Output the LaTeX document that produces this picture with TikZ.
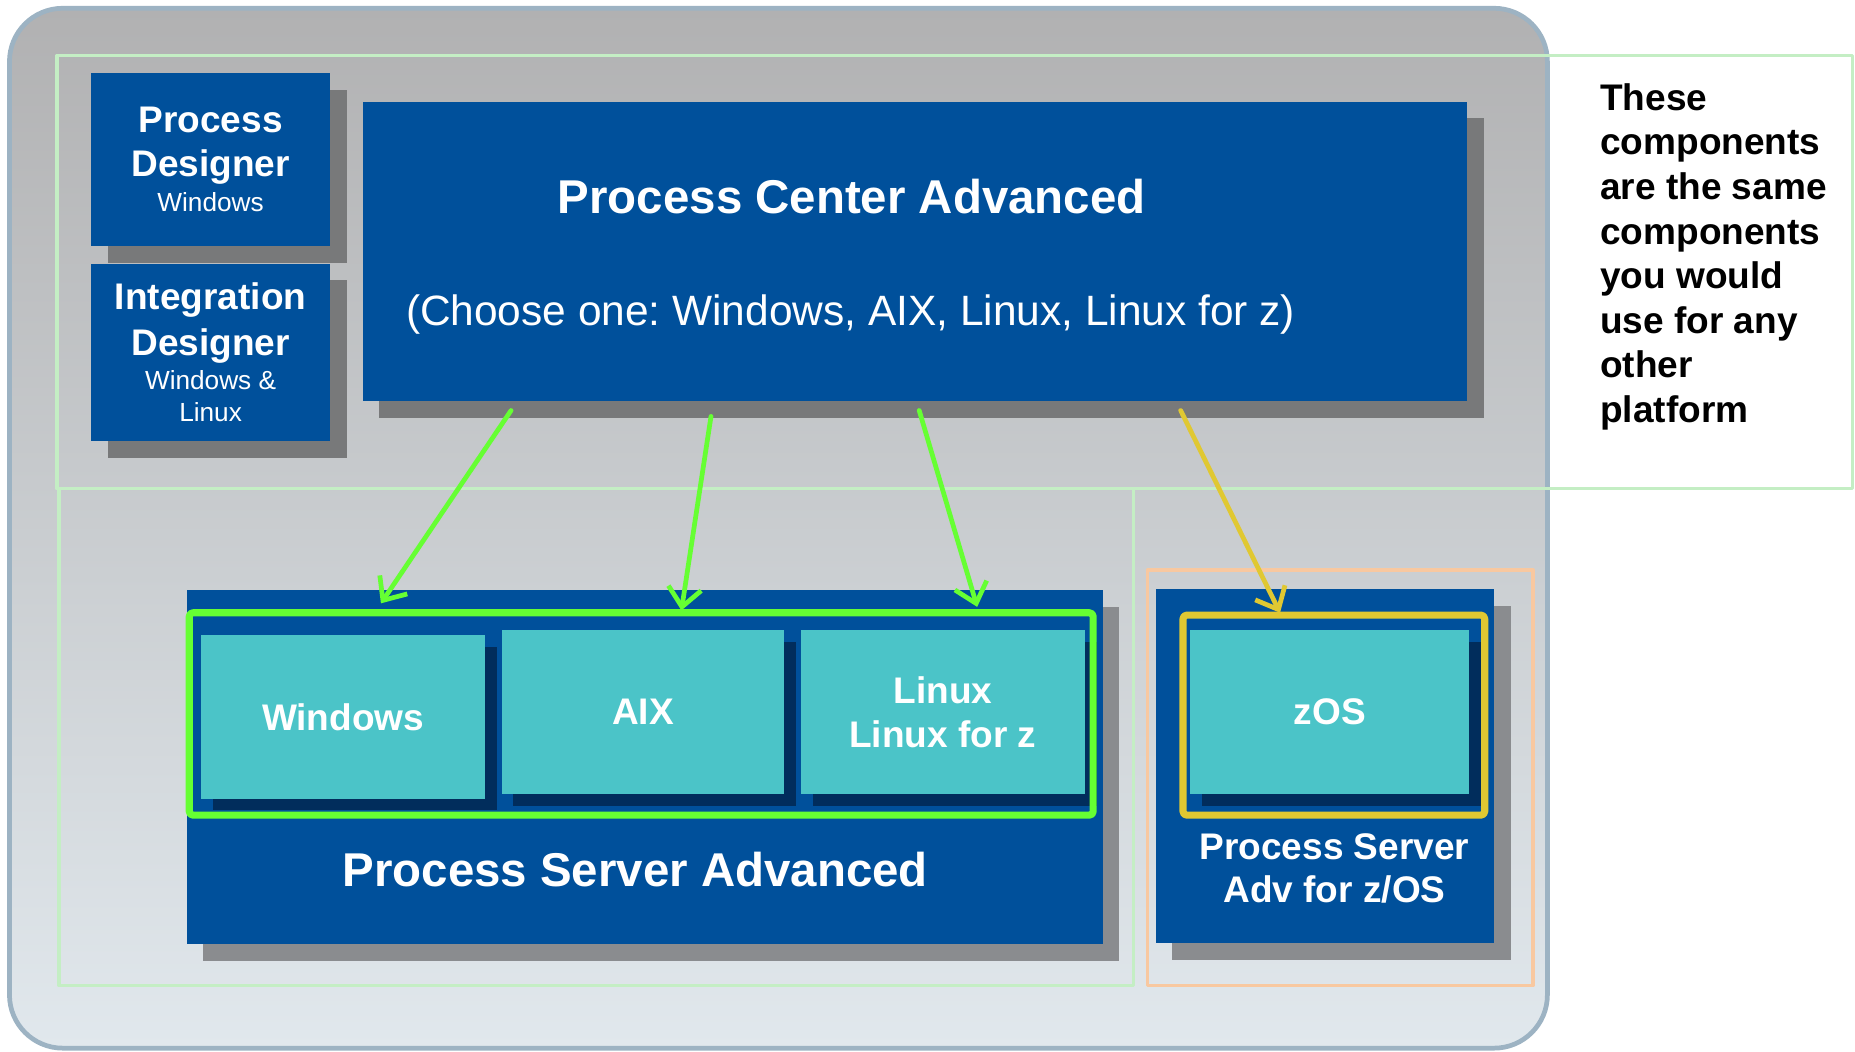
\documentclass[tikz,border=0pt]{standalone}
\usepackage{fontspec}
\setmainfont{Liberation Sans}
\frenchspacing
\usetikzlibrary{arrows.meta,shadows}
\definecolor{ibmblue}{RGB}{0,80,155}
\definecolor{oscyan}{RGB}{75,196,200}
\definecolor{navyshade}{RGB}{1,45,92}
\definecolor{shadetop}{RGB}{120,121,122}
\definecolor{shadebot}{RGB}{138,140,143}
\definecolor{framegray}{RGB}{157,179,195}
\definecolor{bgtop}{RGB}{177,177,178}
\definecolor{bgbot}{RGB}{225,232,237}
\definecolor{zonegreen}{RGB}{196,238,196}
\definecolor{zoneorange}{RGB}{248,200,160}
\definecolor{linkgreen}{RGB}{102,255,51}
\definecolor{linkyellow}{RGB}{224,200,50}
\begin{document}
\begin{tikzpicture}[x=0.01cm,y=-0.01cm,line join=round,
  >={Straight Barb[length=1.6mm,width=2.8mm]},
  bluebox/.style={fill=ibmblue,inner sep=0pt,text=white,align=center},
  topshade/.style={general shadow={fill=shadetop,shadow xshift=0.14cm,shadow yshift=-0.14cm}},
  botshade/.style={general shadow={fill=shadebot,shadow xshift=0.14cm,shadow yshift=-0.14cm}},
  osbox/.style={fill=oscyan,inner sep=0pt,text=white,align=center,minimum height=1.38cm,
    font=\bfseries\fontsize{8.9}{10.5}\selectfont,
    general shadow={fill=navyshade,shadow xshift=0.1cm,shadow yshift=-0.1cm}},
  zone/.style={draw=zonegreen,line width=0.03cm},
  link/.style={->,line width=0.04cm,line cap=round}]
\useasboundingbox (0,0) rectangle (1568,889);
% outer frame
\draw[line width=0.04cm,draw=framegray,top color=bgtop,bottom color=bgbot,rounded corners=0.45cm] (8,7) rectangle (1308,886);
\draw[zone] (48,47) rectangle (1566,413);
\draw[zone] (50,413) rectangle (958,833);
\draw[draw=zoneorange,line width=0.03cm] (970,482) rectangle (1296,833);
% designers
\node[bluebox,topshade,minimum width=2.02cm,minimum height=1.46cm,font=\bfseries\fontsize{8.9}{10.5}\selectfont] (pd) at (178,135)
  {Process\\Designer\\[-2pt]{\mdseries\fontsize{6.3}{8}\selectfont Windows}};
\node[bluebox,topshade,minimum width=2.02cm,minimum height=1.50cm,font=\bfseries\fontsize{8.9}{10.5}\selectfont] (id) at (178,298)
  {Integration\\[0.5pt]Designer\\[-2.2pt]{\mdseries\fontsize{6.3}{8}\selectfont Windows \&}\\[-2.8pt]{\mdseries\fontsize{6.3}{8}\selectfont Linux}};
% process center
\node[bluebox,topshade,minimum width=9.33cm,minimum height=2.53cm] (pca) at (773.5,212.5) {};
\node[text=white,font=\bfseries\fontsize{11.4}{13}\selectfont] (pcatitle) at (720,166) {Process Center Advanced};
\node[text=white,font=\fontsize{10.2}{12}\selectfont] (pcachoice) at (719,266) {(Choose one: Windows, AIX, Linux, Linux for z)};
% process server
\node[bluebox,botshade,minimum width=7.74cm,minimum height=2.99cm] (psa) at (545,648.5) {};
\node[text=white,font=\bfseries\fontsize{11.4}{13}\selectfont] (psatitle) at (537,735) {Process Server Advanced};
\node[osbox,minimum width=2.40cm] (win) at (290,606) {Windows};
\node[osbox,minimum width=2.39cm] (aix) at (543.5,602) {AIX};
\node[osbox,minimum width=2.40cm] (lnx) at (797,602) {Linux\\Linux for z};
\draw[draw=linkgreen,line width=0.06cm,rounded corners=0.03cm] (160,518) rectangle (924,689);
% z/OS
\node[bluebox,botshade,minimum width=2.86cm,minimum height=2.99cm] (psz) at (1120,647.5) {};
\node[osbox,minimum width=2.36cm] (zos) at (1124,602) {zOS};
\draw[draw=linkyellow,line width=0.06cm,rounded corners=0.03cm] (1000,520) rectangle (1255,689);
\node[text=white,align=center,font=\bfseries\fontsize{8.9}{10.2}\selectfont] (pszlabel) at (1128,734) {Process Server\\Adv for z/OS};
% note
\node[anchor=north west,inner sep=0pt,align=left,font=\bfseries\fontsize{8.9}{10.7}\selectfont] (note) at (1352,70)
  {These\\components\\are the same\\components\\you would\\use for any\\other\\platform};
% links
\coordinate (pca-win) at (432,347);
\coordinate (pca-aix) at (601,352);
\coordinate (pca-lnx) at (777,347);
\coordinate (pca-zos) at (998,347);
\coordinate (psa-win) at (322,510);
\coordinate (psa-aix) at (576,516);
\coordinate (psa-lnx) at (826,513);
\coordinate (psz-zos) at (1082,518);
\draw[link,linkgreen] (pca-win) -- (psa-win);
\draw[link,linkgreen] (pca-aix) -- (psa-aix);
\draw[link,linkgreen] (pca-lnx) -- (psa-lnx);
\draw[link,linkyellow] (pca-zos) -- (psz-zos);
\end{tikzpicture}
\end{document}
